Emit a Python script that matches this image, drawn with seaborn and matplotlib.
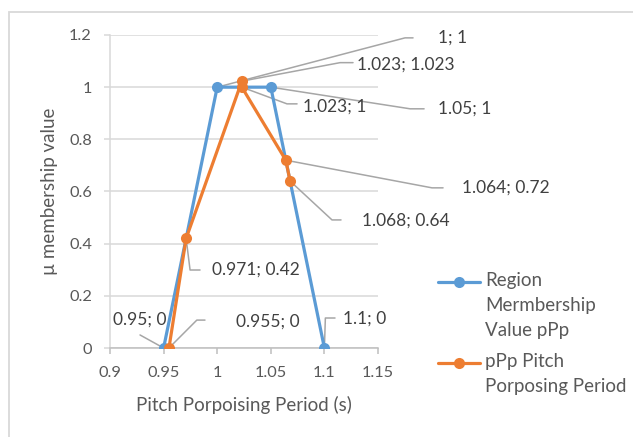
import matplotlib
matplotlib.use("Agg")
import matplotlib.pyplot as plt
from matplotlib.lines import Line2D
from matplotlib.patches import Rectangle
import seaborn as sns

# Series values
region_x = [0.95, 1.0, 1.05, 1.1]
region_y = [0.0, 1.0, 1.0, 0.0]
ppp_x = [0.955, 0.971, 1.023, 1.023, 1.064, 1.068]
ppp_y = [0.0, 0.42, 1.023, 1.0, 0.72, 0.64]

series_names = ["Region\nMermbership\nValue pPp", "pPp Pitch\nPorposing Period"]
x_ticks = [0.9, 0.95, 1.0, 1.05, 1.1, 1.15]
y_ticks = [0.0, 0.2, 0.4, 0.6, 0.8, 1.0, 1.2]
x_tick_labels = ["0.9", "0.95", "1", "1.05", "1.1", "1.15"]
y_tick_labels = ["0", "0.2", "0.4", "0.6", "0.8", "1", "1.2"]

BLUE = "#5B9BD5"
ORANGE = "#ED7D31"
AXIS_TEXT = "#595959"
LABEL_TEXT = "#404040"
GRID = "#D9D9D9"
LEADER = "#A6A6A6"

sns.set_style("white")
plt.rcParams["font.family"] = ["Lato", "DejaVu Sans"]
FS_TICK = 11.8
FS_TITLE = 13.5
FS_DATA = 12.5

fig = plt.figure(figsize=(6.33, 4.37), dpi=100)
ax = fig.add_axes([110 / 633, 1 - 348 / 437, 268 / 633, 313 / 437])

# chart frame
fig.patches.append(Rectangle((9 / 633, -0.05), 1.2, (437 - 12) / 437 + 0.05,
                             transform=fig.transFigure, fill=False,
                             edgecolor=GRID, linewidth=1.3, zorder=0))

line_kw = dict(sort=False, estimator=None, marker="o", markersize=8,
               markeredgewidth=0, linewidth=2.3, legend=False, ax=ax)
sns.lineplot(x=region_x, y=region_y, color=BLUE, zorder=3, **line_kw)
sns.lineplot(x=ppp_x, y=ppp_y, color=ORANGE, zorder=4, **line_kw)

ax.set_xlim(0.9, 1.15)
ax.set_ylim(0, 1.2)
ax.set_xticks(x_ticks)
ax.set_xticklabels(x_tick_labels)
ax.set_yticks(y_ticks)
ax.set_yticklabels(y_tick_labels)
ax.yaxis.grid(True, color=GRID, linewidth=1.1)
ax.xaxis.grid(False)
ax.set_axisbelow(True)
for side in ("top", "right"):
    ax.spines[side].set_visible(False)
ax.spines["left"].set_color(GRID)
ax.spines["left"].set_linewidth(1.1)
ax.spines["bottom"].set_color("#BFBFBF")
ax.spines["bottom"].set_linewidth(1.1)
ax.tick_params(axis="x", direction="out", length=4, width=1.1, color="#BFBFBF",
               pad=9, labelsize=FS_TICK, labelcolor=AXIS_TEXT, bottom=True)
ax.tick_params(axis="y", direction="out", length=4, width=1.1, color=GRID,
               pad=9, labelsize=FS_TICK, labelcolor=AXIS_TEXT, left=True)

ax.set_xlabel("Pitch Porpoising Period (s)", fontsize=FS_TITLE, color=AXIS_TEXT, va="top")
ax.xaxis.set_label_coords(0.5, -0.152)
ax.set_ylabel("µ membership value", fontsize=FS_TITLE, color=AXIS_TEXT)
ax.yaxis.set_label_coords(-0.193, 0.5)

# Data labels: (x, y) -> leader elbow, leader end, text anchor, alignment
labels = [
    ((1.0, 1.0), (1.1752, 1.189), (1.1827, 1.189), (1.206, 1.189), "left"),
    ((1.023, 1.023), (1.1146, 1.094), (1.1267, 1.094), (1.1300, 1.086), "left"),
    ((1.023, 1.0), (1.0651, 0.936), (1.0745, 0.936), (1.0800, 0.925), "left"),
    ((1.05, 1.0), (1.180, 0.917), (1.193, 0.917), (1.206, 0.917), "left"),
    ((1.064, 0.72), (1.2004, 0.614), (1.2107, 0.614), (1.2284, 0.614), "left"),
    ((1.068, 0.64), (1.1071, 0.491), (1.1155, 0.491), (1.1351, 0.487), "left"),
    ((0.971, 0.42), (0.9747, 0.299), (0.984, 0.299), (0.995, 0.299), "left"),
    ((0.95, 0.0), (0.928, 0.050), (0.928, 0.050), (0.928, 0.107), "center"),
    ((0.955, 0.0), (0.981, 0.107), (0.9886, 0.107), (1.0176, 0.100), "left"),
    ((1.1, 0.0), (1.1009, 0.115), (1.1099, 0.115), (1.1174, 0.111), "left"),
]
for (px, py), elbow, end, anchor, ha in labels:
    ax.plot([px, elbow[0], end[0]], [py, elbow[1], end[1]], color=LEADER,
            linewidth=1.1, clip_on=False, zorder=2)
    ax.text(anchor[0], anchor[1], f"{px:g}; {py:g}", ha=ha, va="center",
            fontsize=FS_DATA, color=LABEL_TEXT, clip_on=False, zorder=5)

# Legend
W, H = 633, 437
for (y_px, color, name) in [(282, BLUE, series_names[0]), (363, ORANGE, series_names[1])]:
    yf = 1 - y_px / H
    fig.add_artist(Line2D([438 / W, 480 / W], [yf, yf], transform=fig.transFigure,
                          color=color, linewidth=2.3))
    fig.add_artist(Line2D([459 / W], [yf], transform=fig.transFigure, color=color,
                          marker="o", markersize=8, markeredgewidth=0))
    fig.text(485 / W, 1 - (y_px - 10) / H, name, ha="left", va="top",
             fontsize=FS_TITLE, color=AXIS_TEXT, linespacing=1.58)

fig.savefig("out.png", dpi=100)
